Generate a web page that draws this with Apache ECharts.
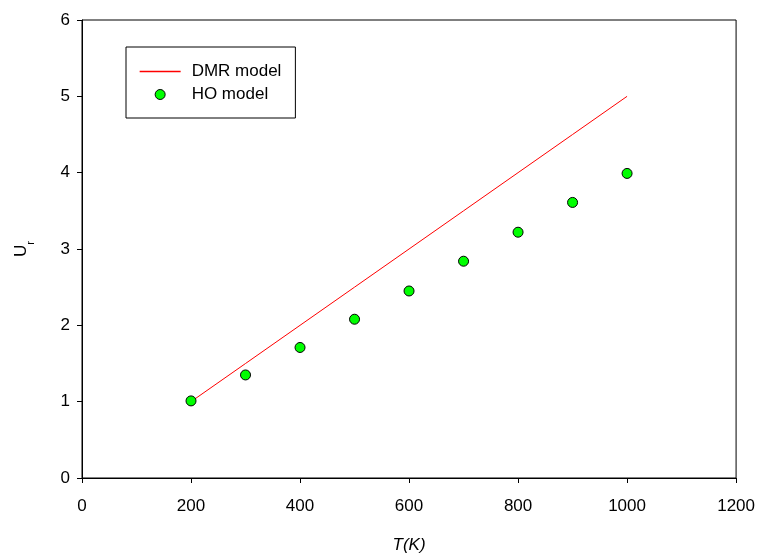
<!DOCTYPE html>
<html>
<head>
<meta charset="utf-8">
<script src="https://cdn.jsdelivr.net/npm/echarts@6/dist/echarts.min.js"></script>
<style>
html,body{margin:0;padding:0;background:#fff;}
#c{width:758px;height:559px;}
</style>
</head>
<body>
<div id="c"></div>
<script>
const temperatures = [200, 300, 400, 500, 600, 700, 800, 900, 1000];
const dmrValues = [1.0, 1.5, 2.0, 2.5, 3.0, 3.5, 4.0, 4.5, 5.0];
const hoValues = [1.01, 1.35, 1.71, 2.08, 2.45, 2.84, 3.22, 3.61, 3.99];
const xTicks = [0, 200, 400, 600, 800, 1000, 1200];
const yTicks = [0, 1, 2, 3, 4, 5, 6];

const font = 'Liberation Sans, Arial, sans-serif';
const chart = echarts.init(document.getElementById('c'));
chart.setOption({
  animation: false,
  backgroundColor: '#fff',
  grid: {left: 82, right: 21, top: 20, bottom: 80, show: true, borderColor: '#000', borderWidth: 1, backgroundColor: 'transparent'},
  legend: {
    orient: 'vertical',
    left: 126, top: 47,
    padding: [16, 14, 15, 13],
    itemGap: 6,
    itemWidth: 41, itemHeight: 10,
    borderColor: '#000', borderWidth: 1,
    backgroundColor: '#fff',
    textStyle: {fontFamily: font, fontSize: 17, color: '#000', padding: [0, 0, 0, 6]},
    data: [
      {name: 'DMR model', itemStyle: {opacity: 0}, lineStyle: {width: 1.3}},
      {name: 'HO model', itemStyle: {borderWidth: 1, borderColor: '#000', color: '#00ff00'}}
    ]
  },
  xAxis: {
    type: 'value', min: 0, max: 1200, interval: 200,
    name: 'T(K)', nameLocation: 'middle', nameGap: 59,
    nameTextStyle: {fontFamily: font, fontSize: 17, fontStyle: 'italic', color: '#000'},
    axisLine: {show: true, lineStyle: {color: '#000', width: 1}},
    axisTick: {show: true, inside: false, length: 5, lineStyle: {color: '#000'}},
    axisLabel: {fontFamily: font, fontSize: 17, color: '#000', margin: 20,
      formatter: v => xTicks.includes(v) ? String(v) : ''},
    splitLine: {show: false}
  },
  yAxis: {
    type: 'value', min: 0, max: 6, interval: 1,
    name: '{u|U}{r|r}', nameLocation: 'middle', nameGap: 52,
    nameTextStyle: {fontFamily: font, fontSize: 17, color: '#000',
      rich: {u: {fontFamily: font, fontSize: 17, color: '#000'},
             r: {fontFamily: font, fontSize: 11, color: '#000', verticalAlign: 'bottom', padding: [0, 0, -6, 0]}}},
    axisLine: {show: true, lineStyle: {color: '#000', width: 1}},
    axisTick: {show: true, inside: false, length: 5, lineStyle: {color: '#000'}},
    axisLabel: {fontFamily: font, fontSize: 17, color: '#000', margin: 12,
      formatter: v => yTicks.includes(v) ? String(v) : ''},
    splitLine: {show: false}
  },
  series: [
    {
      name: 'DMR model', type: 'line',
      data: temperatures.map((t, i) => [t, dmrValues[i]]),
      showSymbol: false, symbol: 'none',
      lineStyle: {color: '#ff0000', width: 1},
      itemStyle: {color: '#ff0000'},
      z: 2
    },
    {
      name: 'HO model', type: 'scatter',
      data: temperatures.map((t, i) => [t, hoValues[i]]),
      symbol: 'circle', symbolSize: 10,
      itemStyle: {color: '#00ff00', borderColor: '#000', borderWidth: 1, opacity: 1},
      z: 3
    }
  ]
});
</script>
</body>
</html>
